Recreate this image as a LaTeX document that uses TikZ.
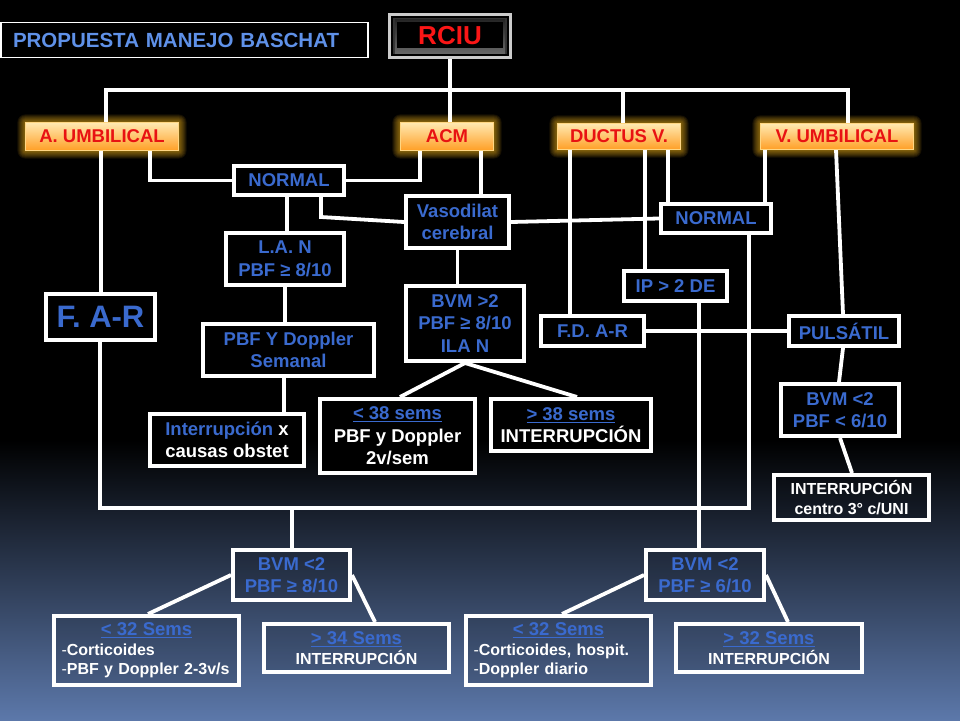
\documentclass[tikz,border=0pt]{standalone}
\usepackage{fontspec}
\setmainfont{Liberation Sans}
\usetikzlibrary{calc}
\pgfdeclarelayer{bglayer}
\pgfdeclarelayer{edgelayer}
\pgfsetlayers{bglayer,edgelayer,main}
\definecolor{tblue}{RGB}{58,106,206}
\definecolor{ttitle}{RGB}{95,145,232}
\definecolor{tred}{RGB}{232,18,18}
\definecolor{rred}{RGB}{250,22,22}
\definecolor{bgmid}{RGB}{30,40,62}
\definecolor{bgbot}{RGB}{92,120,170}
\definecolor{otop}{RGB}{255,232,175}
\definecolor{omid}{RGB}{255,198,95}
\definecolor{obot}{RGB}{255,160,40}
\definecolor{oedge}{RGB}{255,214,130}
\definecolor{glowc}{RGB}{255,190,30}
\newcommand{\mybox}[7][box]{\node[#1, minimum width={#4-#3-3.8}, minimum height={#6-#5-3.8}] (#2) at ({(#3+#4)/2},{(#5+#6)/2}) {#7};}
\newcommand{\wt}[1]{\textcolor{white}{#1}}
\begin{document}
\begin{tikzpicture}[x=1pt,y=-1pt,
  conn/.style={draw=white, line width=3.8pt},
  box/.style={draw=white, line width=3.8pt, fill=black, inner sep=0pt, align=center, text=tblue,
    font=\bfseries\fontsize{18.5}{22.5}\selectfont},
  lowbox/.style={box, fill=black, fill opacity=0.12, text opacity=1, draw opacity=1},
  smallbox/.style={lowbox, font=\bfseries\fontsize{16}{19.5}\selectfont},
  obox/.style={inner sep=0pt, text=tred, draw=oedge, line width=1pt,
    top color=otop, middle color=omid, bottom color=obot,
    font=\bfseries\fontsize{18.5}{22}\selectfont},
  rciubox/.style={draw=black!20, line width=3pt, fill=black, inner sep=0pt, text=rred,
    font=\bfseries\fontsize{26}{30}\selectfont,
    path picture={
      \fill[black!80] ($(path picture bounding box.north west)+(3,3)$) rectangle ($(path picture bounding box.south east)+(-3,-3)$);
      \shade[top color=black!85, middle color=black, bottom color=black!60] ($(path picture bounding box.north west)+(5,5)$) rectangle ($(path picture bounding box.south east)+(-5,-4)$);
      \fill[black] ($(path picture bounding box.north west)+(7,7)$) rectangle ($(path picture bounding box.south east)+(-7,-9)$);
    }},
  titlebox/.style={draw=white, line width=1.2pt, fill=black, text=ttitle, inner xsep=12pt, inner ysep=0pt,
    text width=343pt, minimum height=35pt, align=left, font=\bfseries\fontsize{20.5}{24}\selectfont},
  hdr/.style={}
]
\useasboundingbox (0,0) rectangle (960,720);

% ---------- nodes ----------
\node[titlebox] (title) at (184.5,40) {PROPUESTA MANEJO BASCHAT};
\mybox[rciubox]{rciu}{388}{512}{13}{59}{RCIU}

\mybox[obox]{au}{24}{180}{121}{152}{A. UMBILICAL}
\mybox[obox]{acm}{399}{495}{121}{152}{ACM}
\mybox[obox]{dv}{556}{682}{122}{151}{DUCTUS V.}
\mybox[obox]{vu}{759}{915}{122}{151}{V. UMBILICAL}

\mybox{n1}{232}{346}{164}{197}{NORMAL}
\mybox{vc}{404}{511}{194}{250}{Vasodilat\\cerebral}
\mybox{n2}{659}{773}{202}{235}{NORMAL}
\mybox{lan}{224}{346}{231}{287}{L.A. N\\PBF ≥ 8/10}
\mybox{ip}{622}{729}{269}{303}{IP > 2 DE}
\mybox[box, font=\bfseries\fontsize{31}{34}\selectfont]{far}{44}{157}{292}{342}{F. A-R}
\mybox{bvm1}{404}{526}{284}{363}{BVM >2\\PBF ≥ 8/10\\ILA N}
\mybox{fd}{539}{646}{314}{348}{F.D. A-R}
\mybox{pul}{787}{901}{314}{348}{PULSÁTIL}
\mybox{pbf}{201}{376}{322}{378}{PBF Y Doppler\\Semanal}
\mybox{bvm4}{779}{901}{382}{438}{BVM <2\\PBF < 6/10}
\mybox{int}{148}{306}{412}{468}{Interrupción \wt{x}\\\wt{causas obstet}}
\mybox{s38a}{318}{477}{397}{475}{\underline{< 38 sems}\\\wt{PBF y Doppler}\\\wt{2v/sem}}
\mybox{s38b}{489}{653}{397}{453}{\underline{> 38 sems}\\\wt{INTERRUPCIÓN}}
\mybox[lowbox, text=white, font=\bfseries\fontsize{16}{20}\selectfont]{intc}{772}{931}{473}{522}{INTERRUPCIÓN\\centro 3° c/UNI}

\mybox[lowbox]{bvm2}{231}{352}{548}{602}{BVM <2\\PBF ≥ 8/10}
\mybox[lowbox]{bvm3}{644}{766}{548}{602}{BVM <2\\PBF ≥ 6/10}
\mybox[smallbox, text width=170pt, align=left, text=white]{s32a}{52}{241}{614}{687}{\noindent\makebox[\hsize][c]{\color{tblue}\fontsize{18.5}{19.5}\selectfont\underline{< 32 Sems}}\\{\mdseries -}Corticoides\\{\mdseries -}PBF y Doppler 2-3v/s}
\mybox[smallbox, text=white]{s34}{262}{451}{622}{674}{\textcolor{tblue}{\fontsize{18.5}{19.5}\selectfont\underline{> 34 Sems}}\\INTERRUPCIÓN}
\mybox[smallbox, text width=170pt, align=left, text=white]{s32b}{464}{653}{614}{687}{\noindent\makebox[\hsize][c]{\color{tblue}\fontsize{18.5}{19.5}\selectfont\underline{< 32 Sems}}\\{\mdseries -}Corticoides, hospit.\\{\mdseries -}Doppler diario}
\mybox[smallbox, text=white]{s32c}{674}{864}{622}{674}{\textcolor{tblue}{\fontsize{18.5}{19.5}\selectfont\underline{> 32 Sems}}\\INTERRUPCIÓN}

% ---------- background and glow ----------
\begin{pgfonlayer}{bglayer}
  \fill[black] (0,0) rectangle (960,720);
  \shade[top color=black, middle color=bgmid, bottom color=bgbot] (0,440) rectangle (960,720);
  \foreach \n in {au,acm,dv,vu}{
    \foreach \i in {1,...,8}{
      \fill[glowc, opacity=0.085, rounded corners=\i pt]
        ([shift={(-\i,-\i)}]\n.north west) rectangle ([shift={(\i,\i)}]\n.south east);
    }
  }
\end{pgfonlayer}

% ---------- connectors ----------
\begin{pgfonlayer}{edgelayer}
  \coordinate (busL) at (106,90);
  \coordinate (busR) at (848,90);
  \coordinate (busD) at (623,90);
  \coordinate (lbR) at (749,508);
  \coordinate (lbL) at (100,508);
  \coordinate (lbM) at (292,508);
  \coordinate (bend) at (321,217);

  \draw[conn] (rciu.south) -- (rciu.south |- acm.north);
  \draw[conn] (au.north -| busL) -- (busL) -- (busR) -- (vu.north -| busR);
  \draw[conn] (busD) -- (dv.north -| busD);

  \draw[conn] (au.south -| 101,0) -- (far.north -| 101,0);
  \draw[conn] (au.south -| 150,0) |- (n1.west);
  \draw[conn] (acm.south -| 420,0) |- (n1.east);
  \draw[conn] (acm.south -| 481,0) -- (vc.north -| 481,0);
  \draw[conn] (n1.south -| bend) -- (bend) -- (vc.west);
  \draw[conn] (vc.east) -- (n2.west);
  \draw[conn] (n1.south -| 287,0) -- (lan.north -| 287,0);
  \draw[conn] (lan.south -| 285,0) -- (pbf.north -| 285,0);
  \draw[conn] (pbf.south -| 284,0) -- (int.north -| 284,0);
  \draw[conn] (vc.south) -- (bvm1.north -| vc.south);
  \draw[conn] (bvm1.south) -- (s38a.north -| 400,0);
  \draw[conn] (bvm1.south) -- (s38b.north -| 577,0);

  \draw[conn] (dv.south -| 570,0) -- (fd.north -| 570,0);
  \draw[conn] (dv.south -| 645,0) -- (ip.north -| 645,0);
  \draw[conn] (dv.south -| 668,0) -- (n2.north -| 668,0);
  \draw[conn] (vu.south -| 765,0) -- (n2.north -| 765,0);
  \draw[conn] (vu.south -| 836,0) -- (pul.north -| 843,0);
  \draw[conn] (fd.east) -- (pul.west);

  \draw[conn] (n2.south -| lbR) -- (lbR) -- (lbL) -- (far.south -| lbL);
  \draw[conn] (lbM) -- (bvm2.north -| lbM);
  \draw[conn] (ip.south -| 699,0) -- (bvm3.north -| 699,0);
  \draw[conn] (pul.south -| 843,0) -- (bvm4.north -| 839,0);
  \draw[conn] (bvm4.south -| 840,0) -- (intc.north -| 852,0);

  \draw[conn] (bvm2.west) -- (s32a.north -| 148,0);
  \draw[conn] (bvm2.east) -- (s34.north -| 375,0);
  \draw[conn] (bvm3.west) -- (s32b.north -| 562,0);
  \draw[conn] (bvm3.east) -- (s32c.north -| 788,0);
\end{pgfonlayer}
\end{tikzpicture}
\end{document}
